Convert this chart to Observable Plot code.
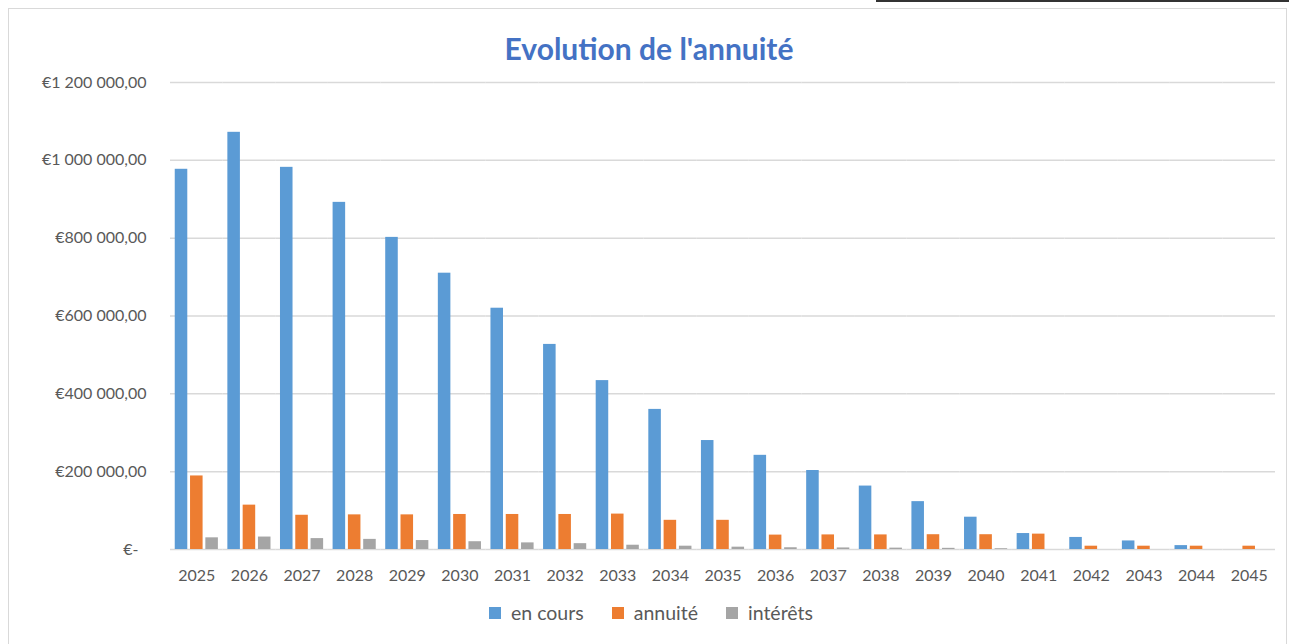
<!DOCTYPE html>
<html>
<head>
<meta charset="utf-8">
<script src="https://cdn.jsdelivr.net/npm/d3@7"></script>
<script src="https://cdn.jsdelivr.net/npm/@observablehq/plot@0.6"></script>
<style>
  html, body { margin: 0; padding: 0; background: #fff; }
  body { width: 1289px; height: 644px; position: relative; overflow: hidden; font-family: Lato, "Open Sans", sans-serif; }
  #topbar { position: absolute; left: 876px; top: 0; width: 413px; height: 2px; background: #333; }
  #frame { position: absolute; left: 8px; top: 8px; width: 1279px; height: 660px; border: 1.5px solid #d9d9d9; box-sizing: border-box; }
  #title { position: absolute; left: 0; width: 1298px; top: 30px; text-align: center; font-size: 30px; font-weight: bold; color: #4472C4; }
  #chart { position: absolute; left: 0; top: 0; }
  #legend { position: absolute; left: 0; width: 1302px; top: 601px; display: flex; justify-content: center; gap: 28px; font-size: 19.5px; color: #595959; }
  .item { display: flex; align-items: center; gap: 10px; }
  .sw { width: 12px; height: 12px; display: inline-block; }
</style>
</head>
<body>
<div id="topbar"></div>
<div id="frame"></div>
<div id="title">Evolution de l'annuité</div>
<div id="chart"></div>
<div id="legend"></div>
<script>
const years = ["2025","2026","2027","2028","2029","2030","2031","2032","2033","2034","2035","2036","2037","2038","2039","2040","2041","2042","2043","2044","2045"];
const seriesNames = ["en cours", "annuité", "intérêts"];
const seriesColors = ["#5B9BD5", "#ED7D31", "#A5A5A5"];
const enCours = [977000, 1072000, 982000, 892000, 802000, 710000, 620000, 527000, 434000, 360000, 280000, 242000, 203000, 163000, 123000, 83000, 41000, 31000, 22000, 10000, 0];
const annuite = [189000, 114000, 88000, 89000, 89000, 90000, 90000, 90000, 91000, 75000, 75000, 37000, 37500, 37500, 38000, 38000, 39500, 8500, 8500, 8500, 8500];
const interets = [30000, 32000, 28000, 26000, 23000, 20000, 17000, 15000, 11000, 8500, 6000, 4500, 4000, 3500, 3000, 2000, 0, 0, 0, 0, 0];
const yTicks = [0, 200000, 400000, 600000, 800000, 1000000, 1200000];

const seriesValues = [enCours, annuite, interets];
const data = [];
years.forEach((yr, i) => {
  seriesNames.forEach((s, j) => data.push({year: yr, series: s, value: seriesValues[j][i]}));
});

const locale = d3.formatLocale({decimal: ",", thousands: "\u00a0", grouping: [3], currency: ["€", ""]});
const fmt = locale.format(",.2f");
const yFormat = d => d === 0 ? "€-\u2002" : "€" + fmt(d);

const chart = Plot.plot({
  width: 1289,
  height: 590,
  marginTop: 82,
  marginBottom: 41,
  marginLeft: 170,
  marginRight: 14,
  style: {fontFamily: "Lato, 'Open Sans', sans-serif", fontSize: "16px", color: "#595959", background: "transparent"},
  fx: {domain: years, padding: 0, round: false, axis: "bottom", label: null, tickSize: 0, tickPadding: 20, fontSize: 16},
  x: {domain: seriesNames, paddingInner: 0.18, paddingOuter: 0.31, round: false, axis: null},
  y: {domain: [0, 1200000], ticks: yTicks, tickFormat: yFormat, label: null, tickSize: 0, tickPadding: 24},
  color: {domain: seriesNames, range: seriesColors},
  marks: [
    Plot.ruleY(yTicks, {stroke: "#d9d9d9", strokeWidth: 1.5}),
    Plot.barY(data, {fx: "year", x: "series", y: "value", fill: "series"}),
    Plot.axisY({ticks: yTicks, tickFormat: yFormat, tickSize: 0, tickPadding: 24, fontSize: 16, label: null})
  ]
});
document.getElementById("chart").appendChild(chart);

const legend = document.getElementById("legend");
seriesNames.forEach((s, j) => {
  const it = document.createElement("div");
  it.className = "item";
  it.innerHTML = `<span class="sw" style="background:${seriesColors[j]}"></span><span>${s}</span>`;
  legend.appendChild(it);
});
</script>
</body>
</html>
